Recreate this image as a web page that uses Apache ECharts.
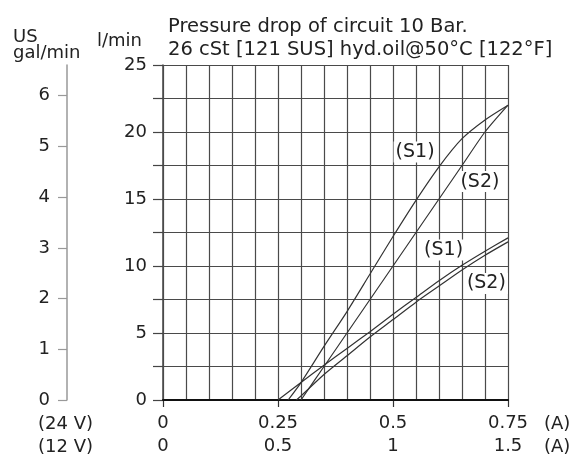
<!DOCTYPE html>
<html><head><meta charset="utf-8">
<script src="https://cdn.jsdelivr.net/npm/echarts@6/dist/echarts.min.js"></script>
<style>html,body{margin:0;padding:0;background:#fff}#c{width:578px;height:458px}</style>
</head><body><div id="c"></div>
<script>
const titleLines = ['Pressure drop of circuit 10 Bar.', '26 cSt [121 SUS] hyd.oil@50°C [122°F]'];
const xTicks24 = [0, 0.25, 0.5, 0.75];
const xTicks12 = [0, 0.5, 1, 1.5];
const flowTicks = [0, 5, 10, 15, 20, 25];
const galTicks = [0, 1, 2, 3, 4, 5, 6];
const LPM_PER_GAL = 3.785;

// current (A, 24 V) vs flow (l/min)
const steepS1 = [[0.272,0],[0.30,1.3],[0.35,4.0],[0.40,6.6],[0.45,9.4],[0.50,12.2],[0.55,14.9],[0.60,17.4],[0.65,19.5],[0.70,20.9],[0.75,22.0]];
const steepS2 = [[0.30,0],[0.35,2.5],[0.40,5.0],[0.45,7.5],[0.50,10.0],[0.55,12.5],[0.60,15.0],[0.65,17.5],[0.70,20.0],[0.75,22.0]];
const shallowS1 = [[0.25,0],[0.30,1.3],[0.35,2.6],[0.40,3.85],[0.45,5.1],[0.50,6.4],[0.55,7.65],[0.60,8.9],[0.65,10.05],[0.70,11.1],[0.75,12.1]];
const shallowS2 = [[0.29,0],[0.30,0.3],[0.35,1.9],[0.40,3.3],[0.45,4.7],[0.50,6.0],[0.55,7.3],[0.60,8.5],[0.65,9.7],[0.70,10.8],[0.75,11.8]];

const seriesNames = ['(S1)', '(S2)', '(S1)', '(S2)'];
const labelCoords = [[0.548,18.5],[0.689,16.3],[0.61,11.2],[0.703,8.7]];

const FONT = 'DejaVu Sans';
const TXT = '#222';
const GRID = '#4a4a4a';

const chart = echarts.init(document.getElementById('c'));

function mkSeries(data, i) {
  return {
    type: 'line', data: data, xAxisIndex: 0, yAxisIndex: 0,
    symbol: 'none', smooth: 0.25,
    lineStyle: {color: '#333', width: 1.2},
    z: 5,
    markPoint: {
      symbol: 'circle', symbolSize: 1, itemStyle: {color: 'rgba(0,0,0,0)'},
      label: {show: true, position: 'inside', formatter: seriesNames[i],
        backgroundColor: '#fff', padding: [1, 2], fontSize: 19, color: TXT, fontFamily: FONT},
      data: [{coord: labelCoords[i], name: seriesNames[i]}]
    }
  };
}

chart.setOption({
  animation: false,
  backgroundColor: '#fff',
  title: {
    text: titleLines.join('\n'), left: 163, top: 10,
    textStyle: {fontSize: 19.5, lineHeight: 23, fontWeight: 'normal', fontFamily: FONT, color: TXT}
  },
  grid: {left: 163, right: 70, top: 65, bottom: 58},
  xAxis: [
    {type: 'value', min: 0, max: 0.75, interval: 0.05, position: 'bottom',
      axisLine: {show: true, onZero: false, lineStyle: {color: '#111', width: 2}},
      axisTick: {show: false}, axisLabel: {show: false},
      splitLine: {show: true, lineStyle: {color: GRID, width: 1.2}}, z: 3},
    {type: 'value', min: xTicks24[0], max: xTicks24[xTicks24.length-1], interval: 0.25, position: 'bottom',
      axisLine: {show: false, onZero: false},
      axisTick: {show: true, length: 7, lineStyle: {color: '#333', width: 1.2}},
      axisLabel: {margin: 14, fontSize: 18, color: TXT, fontFamily: FONT},
      splitLine: {show: false}},
    {type: 'value', min: xTicks12[0], max: xTicks12[xTicks12.length-1], interval: 0.5, position: 'bottom', offset: 23,
      axisLine: {show: false, onZero: false}, axisTick: {show: false},
      axisLabel: {margin: 14, fontSize: 18, color: TXT, fontFamily: FONT},
      splitLine: {show: false}}
  ],
  yAxis: [
    {type: 'value', min: 0, max: 25, interval: 2.5, position: 'left',
      axisLine: {show: true, onZero: false, lineStyle: {color: '#444', width: 1.5}},
      axisTick: {show: true, length: 10, lineStyle: {color: '#444', width: 1.2}},
      axisLabel: {margin: 16, fontSize: 18, color: TXT, fontFamily: FONT,
        formatter: v => flowTicks.indexOf(v) >= 0 ? String(v) : ''},
      splitLine: {show: true, lineStyle: {color: GRID, width: 1.2}}},
    {type: 'value', min: 0, max: 25 / LPM_PER_GAL, interval: 1, position: 'left', offset: 96,
      axisLine: {show: true, onZero: false, lineStyle: {color: '#999', width: 1.5}},
      axisTick: {show: true, length: 9, lineStyle: {color: '#999', width: 1.2}, customValues: galTicks},
      axisLabel: {margin: 17, fontSize: 18, color: TXT, fontFamily: FONT, customValues: galTicks,
        formatter: v => galTicks.indexOf(v) >= 0 ? String(v) : ''},
      splitLine: {show: false}}
  ],
  graphic: [
    {type: 'text', x: 13, y: 37, style: {text: 'US', font: '18px "DejaVu Sans"', fill: TXT, verticalAlign: 'middle'}},
    {type: 'text', x: 13, y: 53, style: {text: 'gal/min', font: '18px "DejaVu Sans"', fill: TXT, verticalAlign: 'middle'}},
    {type: 'text', x: 97, y: 41, style: {text: 'l/min', font: '18px "DejaVu Sans"', fill: TXT, verticalAlign: 'middle'}},
    {type: 'text', x: 38, y: 424, style: {text: '(24 V)', font: '18px "DejaVu Sans"', fill: TXT, verticalAlign: 'middle'}},
    {type: 'text', x: 38, y: 447, style: {text: '(12 V)', font: '18px "DejaVu Sans"', fill: TXT, verticalAlign: 'middle'}},
    {type: 'text', x: 544, y: 424, style: {text: '(A)', font: '18px "DejaVu Sans"', fill: TXT, verticalAlign: 'middle'}},
    {type: 'text', x: 544, y: 447, style: {text: '(A)', font: '18px "DejaVu Sans"', fill: TXT, verticalAlign: 'middle'}}
  ],
  series: [steepS1, steepS2, shallowS1, shallowS2].map(mkSeries)
});
</script></body></html>
